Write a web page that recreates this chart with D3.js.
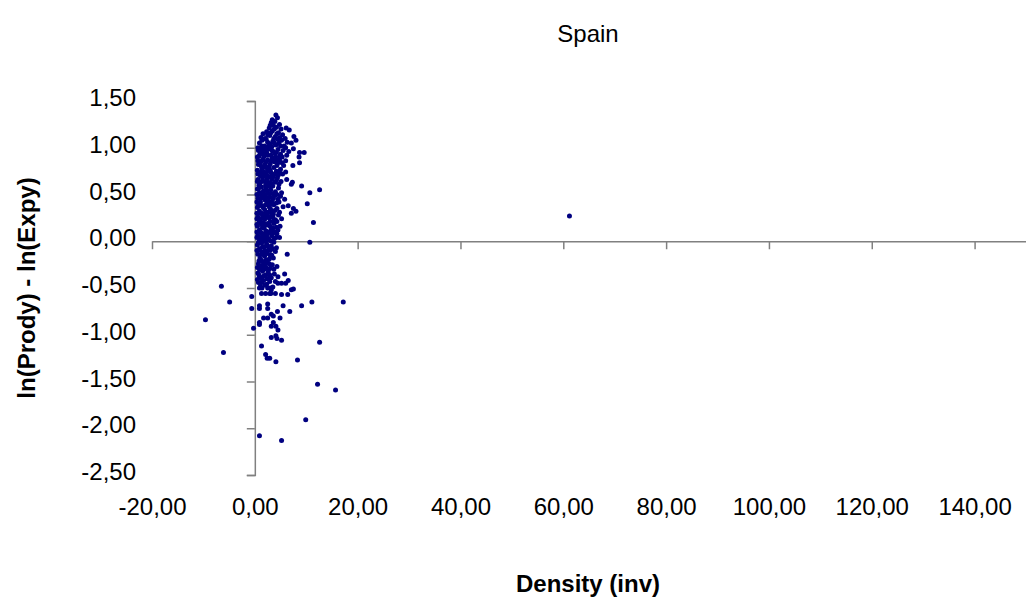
<!DOCTYPE html>
<html>
<head>
<meta charset="utf-8">
<script src="https://cdn.jsdelivr.net/npm/d3@7"></script>
<style>
  body { margin: 0; background: #fff; }
  text { font-family: Arial, "Liberation Sans", sans-serif; }
</style>
</head>
<body>
<div id="chart"></div>
<script>
// axis ticks
const xTicks = [-20, 0, 20, 40, 60, 80, 100, 120, 140];
const yTicks = [-2.5, -2, -1.5, -1, -0.5, 0, 0.5, 1, 1.5];

// [density, ln(Prody) - ln(Expy)]
const clusterTop = [
  [4.1,1.35],[4.4,1.32],[3.2,1.27],[3.6,1.24],[4.2,1.22],[2.8,1.21],[5.1,1.2],[6.1,1.21],[6.7,1.19],[3.9,1.28],[4.8,1.25],
  [1.6,1.15],[2.3,1.17],[2.9,1.13],[3.4,1.18],[4.0,1.12],[4.6,1.16],[5.4,1.14],[5.9,1.1],[7.6,1.12],[1.2,1.11],[3.7,1.1],[2.0,1.1],[4.9,1.11],
  [0.9,1.05],[1.4,1.08],[1.9,1.02],[2.5,1.06],[3.0,1.04],[3.5,1.07],[4.1,1.03],[4.7,1.05],[5.2,1.08],[5.7,1.02],[6.3,1.06],[8.0,1.08],[7.1,1.05],[1.1,1.0],[2.2,1.09],[3.3,1.01],[4.4,1.09],[6.0,1.0],[7.5,0.99],
  [0.7,0.97],[1.0,0.93],[1.5,0.98],[1.8,0.91],[2.3,0.95],[2.7,0.99],[3.1,0.92],[3.6,0.96],[4.0,0.9],[4.5,0.98],[5.0,0.93],[5.5,0.97],[6.2,0.92],[8.7,0.95],[9.6,0.95],[8.6,0.9],[0.8,0.91],[2.0,0.99],[3.9,0.94],[4.8,0.91],[6.6,0.96],
  [0.6,0.86],[1.1,0.84],[1.6,0.88],[2.0,0.82],[2.5,0.87],[3.0,0.83],[3.4,0.89],[3.8,0.85],[4.3,0.81],[4.8,0.87],[5.3,0.84],[6.0,0.86],[8.7,0.84],[7.4,0.81],[1.3,0.8],[2.8,0.8],[4.1,0.88],[5.6,0.81],
  [0.5,0.76],[0.9,0.72],[1.4,0.78],[1.8,0.74],[2.3,0.71],[2.7,0.77],[3.2,0.73],[3.7,0.79],[4.2,0.75],[5.0,0.77],[6.0,0.74],[4.6,0.71],[1.1,0.7],[2.1,0.79],[3.4,0.7],[5.4,0.72],
  [0.6,0.66],[1.0,0.62],[1.5,0.68],[1.9,0.64],[2.4,0.67],[2.9,0.61],[3.3,0.66],[3.9,0.63],[4.4,0.68],[6.2,0.66],[7.1,0.61],[7.3,0.63],[0.8,0.6],[2.1,0.6],[3.6,0.69],[5.1,0.64],
  [0.5,0.56],[0.9,0.52],[1.3,0.58],[1.7,0.54],[2.2,0.57],[2.6,0.51],[3.1,0.55],[3.5,0.59],[4.0,0.53],[4.6,0.57],[5.2,0.52],[9.1,0.59],[10.7,0.52],[12.6,0.55],[1.0,0.5],[2.8,0.59],[3.8,0.5],
  [0.6,0.46],[1.1,0.42],[1.5,0.48],[2.0,0.44],[2.4,0.41],[2.9,0.47],[3.4,0.43],[3.9,0.49],[4.5,0.45],[5.8,0.45],[10.2,0.40],[0.8,0.4],[1.8,0.49],[3.1,0.4],[4.2,0.41],[5.0,0.48],
  [0.5,0.36],[0.9,0.32],[1.4,0.38],[1.9,0.34],[2.3,0.31],[2.8,0.37],[3.2,0.33],[3.7,0.39],[4.3,0.35],[6.5,0.38],[7.5,0.35],[8.0,0.32],[7.1,0.30],[1.1,0.3],[2.5,0.39],[4.8,0.31],[5.5,0.37],
  [0.6,0.26],[1.0,0.22],[1.5,0.28],[2.0,0.24],[2.5,0.27],[3.0,0.21],[3.5,0.26],[4.0,0.23],[4.6,0.28],[11.4,0.20],[0.8,0.2],[1.7,0.2],[3.3,0.29],[5.2,0.24],
  [0.5,0.16],[0.9,0.12],[1.3,0.18],[1.8,0.14],[2.2,0.11],[2.7,0.17],[3.2,0.13],[3.7,0.19],[4.2,0.15],[1.1,0.1],[2.5,0.19],[3.9,0.1],[4.9,0.16],
  [0.6,0.06],[1.0,0.02],[1.4,0.08],[1.9,0.04],[2.4,0.07],[2.9,0.01],[3.3,0.06],[3.8,0.03],[4.3,0.08],[10.7,-0.01],[0.8,0.0],[2.1,0.0],[3.6,0.09],[4.8,0.04]
];

// more of the packed core, between the rows above
const clusterCore = [
  [3.4,1.3],[3.0,1.24],[3.8,1.2],[2.5,1.14],[3.1,1.16],[4.3,1.15],[1.4,1.02],[2.7,1.02],[3.8,1.05],[5.0,1.02],
  [0.6,1.0],[1.2,0.96],[1.7,0.94],[2.5,0.92],[3.3,0.97],[4.2,0.95],[5.3,0.9],[0.5,0.9],[1.4,0.86],[2.2,0.85],
  [3.2,0.86],[4.5,0.84],[0.7,0.82],[1.8,0.8],[2.5,0.75],[3.0,0.76],[3.9,0.72],[4.8,0.74],[0.6,0.72],[1.2,0.74],
  [1.7,0.7],[2.7,0.69],[4.2,0.65],[0.5,0.64],[1.3,0.64],[2.6,0.63],[3.1,0.62],[4.7,0.61],[0.7,0.56],[1.5,0.52],
  [2.0,0.5],[2.4,0.54],[3.3,0.51],[4.3,0.5],[0.4,0.5],[1.3,0.46],[2.2,0.47],[2.7,0.43],[3.6,0.46],[4.7,0.42],
  [0.4,0.42],[0.7,0.38],[1.6,0.36],[2.1,0.39],[3.0,0.35],[3.9,0.33],[0.4,0.3],[1.3,0.3],[2.0,0.3],[2.7,0.31],
  [3.6,0.29],[0.4,0.24],[1.2,0.24],[1.8,0.27],[2.8,0.25],[3.7,0.22],[4.3,0.21],[0.4,0.18],[1.5,0.15],[2.0,0.17],
  [3.0,0.16],[3.5,0.14],[4.5,0.12],[0.4,0.1],[1.7,0.08],[2.7,0.1],[3.1,0.09],[4.1,0.04],[0.4,0.04],[1.2,0.04],
  [1.6,0.0],[2.6,0.03],[3.2,0.0],[0.7,-0.02],[1.5,-0.06],[2.5,-0.05],[3.4,-0.08],[0.4,-0.1],[1.4,-0.14],[2.1,-0.13],
  [3.0,-0.15],[0.8,-0.21],[1.9,-0.22],[2.8,-0.24],[0.5,-0.28],[1.4,-0.26],[2.3,-0.29],[3.7,-0.3],[0.8,-0.36],[1.8,-0.37],
  [2.9,-0.36],[0.5,-0.41],[1.4,-0.44],[2.0,-0.47],[2.6,-0.4],[4.0,-0.43],[0.9,-0.5],[2.5,-0.5]
];

const clusterLow = [
  [0.5,-0.04],[0.9,-0.08],[1.3,-0.02],[1.8,-0.06],[2.3,-0.03],[2.7,-0.09],[3.2,-0.05],[3.7,-0.01],[4.2,-0.07],[1.1,-0.1],[2.0,-0.1],[3.0,-0.1],
  [0.6,-0.14],[1.0,-0.18],[1.5,-0.12],[1.9,-0.16],[2.4,-0.13],[2.8,-0.19],[3.3,-0.15],[4.0,-0.11],[6.3,-0.14],[1.2,-0.2],[2.2,-0.2],[3.6,-0.18],
  [0.7,-0.24],[1.1,-0.28],[1.6,-0.22],[2.0,-0.26],[2.5,-0.23],[3.0,-0.29],[3.4,-0.25],[4.3,-0.27],[0.9,-0.3],[1.8,-0.3],[2.7,-0.3],
  [0.6,-0.34],[1.0,-0.38],[1.5,-0.32],[2.1,-0.36],[2.6,-0.33],[3.2,-0.39],[3.8,-0.35],[5.8,-0.35],[1.3,-0.4],[2.4,-0.4],[4.5,-0.38],
  [0.7,-0.44],[1.1,-0.48],[1.7,-0.42],[2.3,-0.46],[2.9,-0.43],[3.5,-0.49],[4.5,-0.45],[5.2,-0.45],[6.0,-0.45],[6.5,-0.42],[1.4,-0.5],[3.0,-0.5]
];

const sparse = [
  [7.5,-0.51],[7.1,-0.52],[3.2,-0.52],[1.3,-0.56],[2.1,-0.56],[2.9,-0.56],[3.1,-0.56],[4.0,-0.56],[5.2,-0.57],[6.4,-0.57],
  [-0.6,-0.59],[-0.6,-0.72],[0.9,-0.69],[0.9,-0.72],[2.5,-0.67],[2.5,-0.72],[3.2,-0.78],[3.6,-0.8],[4.4,-0.75],[4.9,-0.82],
  [5.5,-0.69],[6.8,-0.75],[9.1,-0.69],[11.1,-0.65],[17.2,-0.65],[1.7,-0.82],[2.5,-0.82],[3.6,-0.87],[0.9,-0.89],[0.9,-0.87],
  [-0.25,-0.93],[3.2,-0.91],[4.1,-0.91],[4.5,-0.95],[3.2,-1.03],[4.1,-1.01],[4.3,-1.04],[5.2,-1.06],
  [1.3,-1.12],[2.1,-1.21],[2.4,-1.25],[2.9,-1.25],[4.1,-1.29],[8.3,-1.27],[12.6,-1.08]
];

const outliers = [
  [-6.5,-0.48],[-4.9,-0.65],[-9.6,-0.84],[-6.1,-1.19],
  [12.2,-1.53],[15.7,-1.59],[9.9,-1.91],[0.9,-2.08],[5.2,-2.13],
  [61.2,0.27]
];

const points = clusterTop.concat(clusterCore, clusterLow, sparse, outliers);

const svgWidth = 1026;
const svgHeight = 601;

const svg = d3.select("#chart")
  .append("svg")
  .attr("width", svgWidth)
  .attr("height", svgHeight);

const x = d3.scaleLinear().domain([-20, 150]).range([152, 1026]);
const y = d3.scaleLinear().domain([-2.5, 1.5]).range([475, 101]);

const fmt = d3.formatLocale({decimal: ",", thousands: ".", grouping: [3], currency: ["", ""], minus: "-"}).format(".2f");

// y axis line + ticks at x = 0
const yAxis = svg.append("g")
  .attr("transform", `translate(${x(0)},0)`)
  .call(d3.axisLeft(y).tickValues(yTicks).tickSize(8).tickSizeOuter(8).tickFormat(""));

// x axis line + ticks at y = 0
const xAxis = svg.append("g")
  .attr("transform", `translate(0,${y(0)})`)
  .call(d3.axisBottom(x).tickValues(xTicks).tickSize(8).tickSizeOuter(0).tickFormat(""));

[yAxis, xAxis].forEach(g => {
  g.selectAll("path, line").attr("stroke", "#808080").attr("stroke-width", 1.5);
});

// tick labels sit outside the plot, Excel "low" style
const yLabels = svg.append("g")
  .attr("transform", "translate(140,-3)")
  .call(d3.axisLeft(y).tickValues(yTicks).tickSize(0).tickPadding(4).tickFormat(fmt));
yLabels.select(".domain").remove();
yLabels.selectAll("text").attr("font-size", 24).attr("fill", "#000");

const xLabels = svg.append("g")
  .attr("transform", `translate(0,${y(-2.5) + 21})`)
  .call(d3.axisBottom(x).tickValues(xTicks).tickSize(0).tickPadding(2).tickFormat(fmt));
xLabels.select(".domain").remove();
xLabels.selectAll("text").attr("font-size", 24).attr("fill", "#000");

// points
svg.append("g")
  .selectAll("circle")
  .data(points)
  .enter()
  .append("circle")
  .attr("cx", d => x(d[0]))
  .attr("cy", d => y(d[1]))
  .attr("r", 2.5)
  .attr("fill", "#000080");

// titles
svg.append("text")
  .attr("x", 588)
  .attr("y", 42)
  .attr("text-anchor", "middle")
  .attr("font-size", 24)
  .text("Spain");

svg.append("text")
  .attr("x", 588)
  .attr("y", 592)
  .attr("text-anchor", "middle")
  .attr("font-size", 24)
  .attr("font-weight", "bold")
  .text("Density (inv)");

svg.append("text")
  .attr("transform", `translate(35,${y(-0.5)}) rotate(-90)`)
  .attr("text-anchor", "middle")
  .attr("font-size", 24)
  .attr("font-weight", "bold")
  .text("ln(Prody) - ln(Expy)");
</script>
</body>
</html>
